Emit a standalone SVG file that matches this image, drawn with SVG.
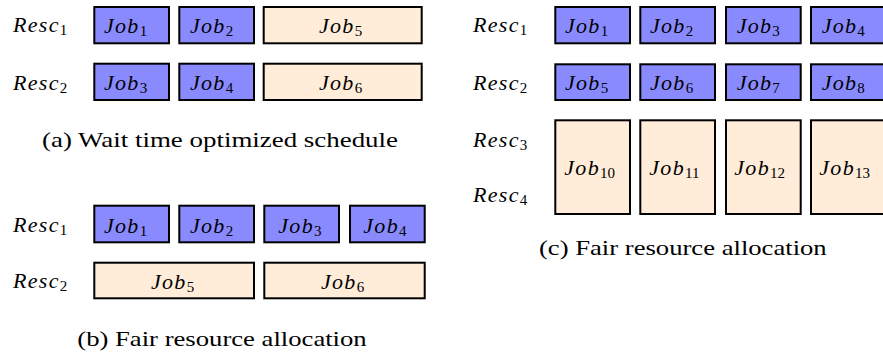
<svg xmlns="http://www.w3.org/2000/svg" width="883" height="356" viewBox="0 0 883 356">
<style>
.b{fill:#8a8aff;stroke:#000;stroke-width:2}
.o{fill:#ffecd9;stroke:#000;stroke-width:2}
.m{font-family:"Liberation Serif","Times New Roman",serif;font-style:italic;font-size:22px;letter-spacing:1.3px;fill:#000}
.s{font-style:normal;font-size:15px;letter-spacing:0}
.c{font-family:"Liberation Serif","Times New Roman",serif;font-size:21px;fill:#000}
</style>
<rect width="883" height="356" fill="#fff"/>
<g id="panel-a">
<g id="a-resc1"><text class="m" x="13" y="32.3">Resc<tspan class="s" dy="3">1</tspan></text></g>
<g id="a-resc2"><text class="m" x="13" y="89.5">Resc<tspan class="s" dy="3">2</tspan></text></g>
<g id="a-job1"><rect class="b" x="94.3" y="7" width="74.7" height="36.3"/><text class="m" x="104" y="32.6">Job<tspan class="s" dy="3">1</tspan></text></g>
<g id="a-job2"><rect class="b" x="179.3" y="7" width="74.7" height="36.3"/><text class="m" x="190" y="32.6">Job<tspan class="s" dy="3">2</tspan></text></g>
<g id="a-job5"><rect class="o" x="263.7" y="7" width="158" height="36.3"/><text class="m" x="319" y="32.6">Job<tspan class="s" dy="3">5</tspan></text></g>
<g id="a-job3"><rect class="b" x="94.3" y="63.7" width="74.7" height="36.3"/><text class="m" x="104" y="89.8">Job<tspan class="s" dy="3">3</tspan></text></g>
<g id="a-job4"><rect class="b" x="179.3" y="63.7" width="74.7" height="36.3"/><text class="m" x="190" y="89.8">Job<tspan class="s" dy="3">4</tspan></text></g>
<g id="a-job6"><rect class="o" x="263.7" y="63.7" width="158" height="36.3"/><text class="m" x="319" y="89.8">Job<tspan class="s" dy="3">6</tspan></text></g>
<g id="a-caption"><text class="c" x="42" y="146.7" textLength="356" lengthAdjust="spacingAndGlyphs">(a) Wait time optimized schedule</text></g>
</g>
<g id="panel-b">
<g id="b-resc1"><text class="m" x="13" y="231.7">Resc<tspan class="s" dy="3">1</tspan></text></g>
<g id="b-resc2"><text class="m" x="13" y="288.3">Resc<tspan class="s" dy="3">2</tspan></text></g>
<g id="b-job1"><rect class="b" x="94.3" y="205.7" width="74.7" height="36.6"/><text class="m" x="104" y="232.7">Job<tspan class="s" dy="3">1</tspan></text></g>
<g id="b-job2"><rect class="b" x="179.3" y="205.7" width="74.7" height="36.6"/><text class="m" x="190" y="232.7">Job<tspan class="s" dy="3">2</tspan></text></g>
<g id="b-job3"><rect class="b" x="264.3" y="205.7" width="74.7" height="36.6"/><text class="m" x="278.3" y="232.7">Job<tspan class="s" dy="3">3</tspan></text></g>
<g id="b-job4"><rect class="b" x="350" y="205.7" width="74.7" height="36.6"/><text class="m" x="363.3" y="232.7">Job<tspan class="s" dy="3">4</tspan></text></g>
<g id="b-job5"><rect class="o" x="94.3" y="262.7" width="159.7" height="35.6"/><text class="m" x="151" y="289.3">Job<tspan class="s" dy="3">5</tspan></text></g>
<g id="b-job6"><rect class="o" x="264.3" y="262.7" width="160.4" height="35.6"/><text class="m" x="321" y="289.3">Job<tspan class="s" dy="3">6</tspan></text></g>
<g id="b-caption"><text class="c" x="77.3" y="345.7" textLength="289.4" lengthAdjust="spacingAndGlyphs">(b) Fair resource allocation</text></g>
</g>
<g id="panel-c">
<g id="c-resc1"><text class="m" x="473" y="32.3">Resc<tspan class="s" dy="3">1</tspan></text></g>
<g id="c-resc2"><text class="m" x="473" y="89.8">Resc<tspan class="s" dy="3">2</tspan></text></g>
<g id="c-resc3"><text class="m" x="473" y="146.7">Resc<tspan class="s" dy="3">3</tspan></text></g>
<g id="c-resc4"><text class="m" x="473" y="201.7">Resc<tspan class="s" dy="3">4</tspan></text></g>
<g id="c-job1"><rect class="b" x="555.3" y="7" width="74.7" height="36.3"/><text class="m" x="565" y="32.6">Job<tspan class="s" dy="3">1</tspan></text></g>
<g id="c-job2"><rect class="b" x="640.3" y="7" width="74.7" height="36.3"/><text class="m" x="650" y="32.6">Job<tspan class="s" dy="3">2</tspan></text></g>
<g id="c-job3"><rect class="b" x="726" y="7" width="74.7" height="36.3"/><text class="m" x="736.7" y="32.6">Job<tspan class="s" dy="3">3</tspan></text></g>
<g id="c-job4"><rect class="b" x="811" y="7" width="74.7" height="36.3"/><text class="m" x="821.7" y="32.6">Job<tspan class="s" dy="3">4</tspan></text></g>
<g id="c-job5"><rect class="b" x="555.3" y="64.3" width="74.7" height="35.7"/><text class="m" x="565" y="90">Job<tspan class="s" dy="3">5</tspan></text></g>
<g id="c-job6"><rect class="b" x="640.3" y="64.3" width="74.7" height="35.7"/><text class="m" x="650" y="90">Job<tspan class="s" dy="3">6</tspan></text></g>
<g id="c-job7"><rect class="b" x="726" y="64.3" width="74.7" height="35.7"/><text class="m" x="736.7" y="90">Job<tspan class="s" dy="3">7</tspan></text></g>
<g id="c-job8"><rect class="b" x="811" y="64.3" width="74.7" height="35.7"/><text class="m" x="821.7" y="90">Job<tspan class="s" dy="3">8</tspan></text></g>
<g id="c-job10"><rect class="o" x="555.3" y="120.3" width="74.7" height="93.7"/><text class="m" x="564.3" y="175">Job<tspan class="s" dy="3">10</tspan></text></g>
<g id="c-job11"><rect class="o" x="640.3" y="120.3" width="74.7" height="93.7"/><text class="m" x="649.3" y="175">Job<tspan class="s" dy="3">11</tspan></text></g>
<g id="c-job12"><rect class="o" x="726" y="120.3" width="74.7" height="93.7"/><text class="m" x="734.3" y="175">Job<tspan class="s" dy="3">12</tspan></text></g>
<g id="c-job13"><rect class="o" x="811" y="120.3" width="74.7" height="93.7"/><text class="m" x="819.3" y="175">Job<tspan class="s" dy="3">13</tspan></text></g>
<g id="c-caption"><text class="c" x="539" y="255" textLength="287.7" lengthAdjust="spacingAndGlyphs">(c) Fair resource allocation</text></g>
</g>
</svg>
